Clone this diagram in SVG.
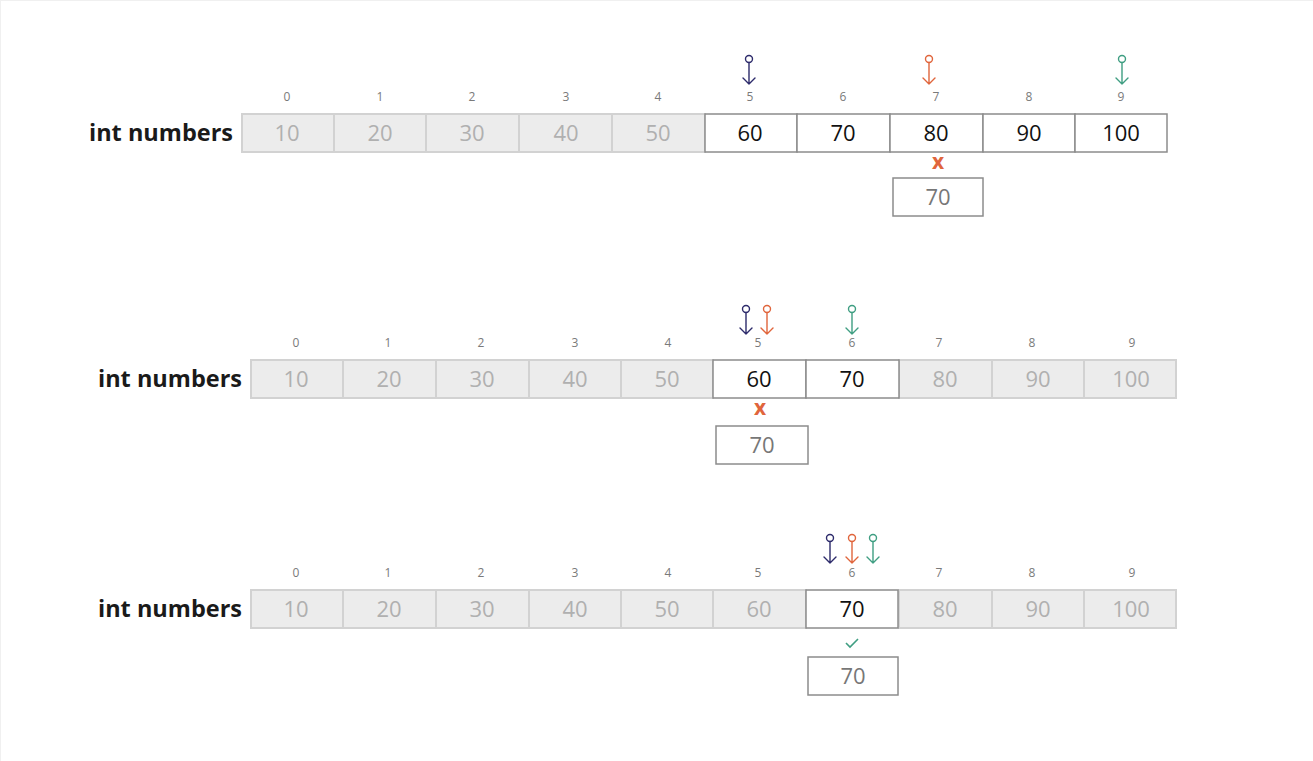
<svg xmlns="http://www.w3.org/2000/svg" width="1313" height="761" viewBox="0 0 1313 761">
<style>
.lbl{font-family:"Open Sans","Liberation Sans",sans-serif;font-weight:bold;font-size:23.5px;fill:#1a1a1a;text-anchor:end}
.idx text{font-family:"Open Sans","Liberation Sans",sans-serif;font-size:12px;fill:#7a7a7a;text-anchor:middle}
.off rect{fill:#ececec;stroke:#d2d2d2;stroke-width:2}
.off text{fill:#b0b0b0}
.on rect{fill:#fff;stroke:#8c8c8c;stroke-width:1.5}
.on text{fill:#111}
.val{font-family:"Open Sans","Liberation Sans",sans-serif;font-size:22px;text-anchor:middle}
.key rect{fill:#fff;stroke:#8c8c8c;stroke-width:1.5}
.key text{fill:#777}
.ptr{fill:none;stroke-width:1.4;stroke-linecap:round;stroke-linejoin:round}
.n{stroke:#2d2b6b}.o{stroke:#e0653c}.g{stroke:#3f9e82}
.xm{font-family:"Open Sans","Liberation Sans",sans-serif;font-weight:bold;font-size:21px;fill:#e0653c;text-anchor:middle}
</style>
<defs>
<g id="p"><circle cx="0" cy="0" r="3.5"/><path d="M0 3.5V25M-6 19L0 25L6 19"/></g>
</defs>
<rect x="0.5" y="0.5" width="1320" height="770" fill="#fff" stroke="#f0f0f0"/>

<!-- Row 1 -->
<g id="row1">
<text class="lbl" x="233" y="141">int numbers</text>
<g class="idx">
<text x="287" y="101">0</text><text x="380" y="101">1</text><text x="472" y="101">2</text><text x="566" y="101">3</text><text x="658" y="101">4</text><text x="750" y="101">5</text><text x="843" y="101">6</text><text x="936" y="101">7</text><text x="1029" y="101">8</text><text x="1121" y="101">9</text>
</g>
<g class="off val">
<rect x="242" y="114" width="92" height="38"/><text x="287" y="141">10</text>
<rect x="334" y="114" width="92" height="38"/><text x="380" y="141">20</text>
<rect x="426" y="114" width="93" height="38"/><text x="472" y="141">30</text>
<rect x="519" y="114" width="93" height="38"/><text x="566" y="141">40</text>
<rect x="612" y="114" width="93" height="38"/><text x="658" y="141">50</text>
</g>
<g class="on val">
<rect x="705" y="114" width="92" height="38"/><text x="750" y="141">60</text>
<rect x="797" y="114" width="93" height="38"/><text x="843" y="141">70</text>
<rect x="890" y="114" width="93" height="38"/><text x="936" y="141">80</text>
<rect x="983" y="114" width="92" height="38"/><text x="1029" y="141">90</text>
<rect x="1075" y="114" width="92" height="38"/><text x="1121" y="141">100</text>
</g>
</g>
<g id="ptrs1">
<use href="#p" x="749" y="59" class="ptr n"/>
<use href="#p" x="929" y="59" class="ptr o"/>
<use href="#p" x="1122" y="59" class="ptr g"/>
</g>
<text class="xm" x="938" y="169">x</text>
<g id="key1" class="key val"><rect x="893" y="178" width="90" height="38"/><text x="938" y="205">70</text></g>

<!-- Row 2 -->
<g id="row2">
<text class="lbl" x="242" y="387">int numbers</text>
<g class="idx">
<text x="296" y="347">0</text><text x="388" y="347">1</text><text x="481" y="347">2</text><text x="575" y="347">3</text><text x="668" y="347">4</text><text x="758" y="347">5</text><text x="852" y="347">6</text><text x="939" y="347">7</text><text x="1032" y="347">8</text><text x="1132" y="347">9</text>
</g>
<g class="off val">
<rect x="251" y="360" width="92" height="38"/><text x="296" y="387">10</text>
<rect x="343" y="360" width="93" height="38"/><text x="389" y="387">20</text>
<rect x="436" y="360" width="93" height="38"/><text x="482" y="387">30</text>
<rect x="529" y="360" width="92" height="38"/><text x="575" y="387">40</text>
<rect x="621" y="360" width="92" height="38"/><text x="667" y="387">50</text>
<rect x="899" y="360" width="93" height="38"/><text x="945" y="387">80</text>
<rect x="992" y="360" width="92" height="38"/><text x="1038" y="387">90</text>
<rect x="1084" y="360" width="92" height="38"/><text x="1131" y="387">100</text>
</g>
<g class="on val">
<rect x="713" y="360" width="93" height="38"/><text x="759" y="387">60</text>
<rect x="806" y="360" width="93" height="38"/><text x="852" y="387">70</text>
</g>
</g>
<g id="ptrs2">
<use href="#p" x="746" y="309" class="ptr n"/>
<use href="#p" x="767" y="309" class="ptr o"/>
<use href="#p" x="852" y="309" class="ptr g"/>
</g>
<text class="xm" x="760" y="415">x</text>
<g id="key2" class="key val"><rect x="716" y="426" width="92" height="38"/><text x="762" y="453">70</text></g>

<!-- Row 3 -->
<g id="row3">
<text class="lbl" x="242" y="617">int numbers</text>
<g class="idx">
<text x="296" y="577">0</text><text x="388" y="577">1</text><text x="481" y="577">2</text><text x="575" y="577">3</text><text x="668" y="577">4</text><text x="758" y="577">5</text><text x="852" y="577">6</text><text x="939" y="577">7</text><text x="1032" y="577">8</text><text x="1132" y="577">9</text>
</g>
<g class="off val">
<rect x="251" y="590" width="92" height="38"/><text x="296" y="617">10</text>
<rect x="343" y="590" width="93" height="38"/><text x="389" y="617">20</text>
<rect x="436" y="590" width="93" height="38"/><text x="482" y="617">30</text>
<rect x="529" y="590" width="92" height="38"/><text x="575" y="617">40</text>
<rect x="621" y="590" width="92" height="38"/><text x="667" y="617">50</text>
<rect x="713" y="590" width="93" height="38"/><text x="759" y="617">60</text>
<rect x="899" y="590" width="93" height="38"/><text x="945" y="617">80</text>
<rect x="992" y="590" width="92" height="38"/><text x="1038" y="617">90</text>
<rect x="1084" y="590" width="92" height="38"/><text x="1131" y="617">100</text>
</g>
<g class="on val">
<rect x="806" y="590" width="92" height="38"/><text x="852" y="617">70</text>
</g>
</g>
<g id="ptrs3">
<use href="#p" x="830" y="538" class="ptr n"/>
<use href="#p" x="852" y="538" class="ptr o"/>
<use href="#p" x="873" y="538" class="ptr g"/>
</g>
<path d="M846 643L850 647L858 639" fill="none" stroke="#3f9e82" stroke-width="1.6"/>
<g id="key3" class="key val"><rect x="808" y="657" width="90" height="38"/><text x="853" y="684">70</text></g>
</svg>
